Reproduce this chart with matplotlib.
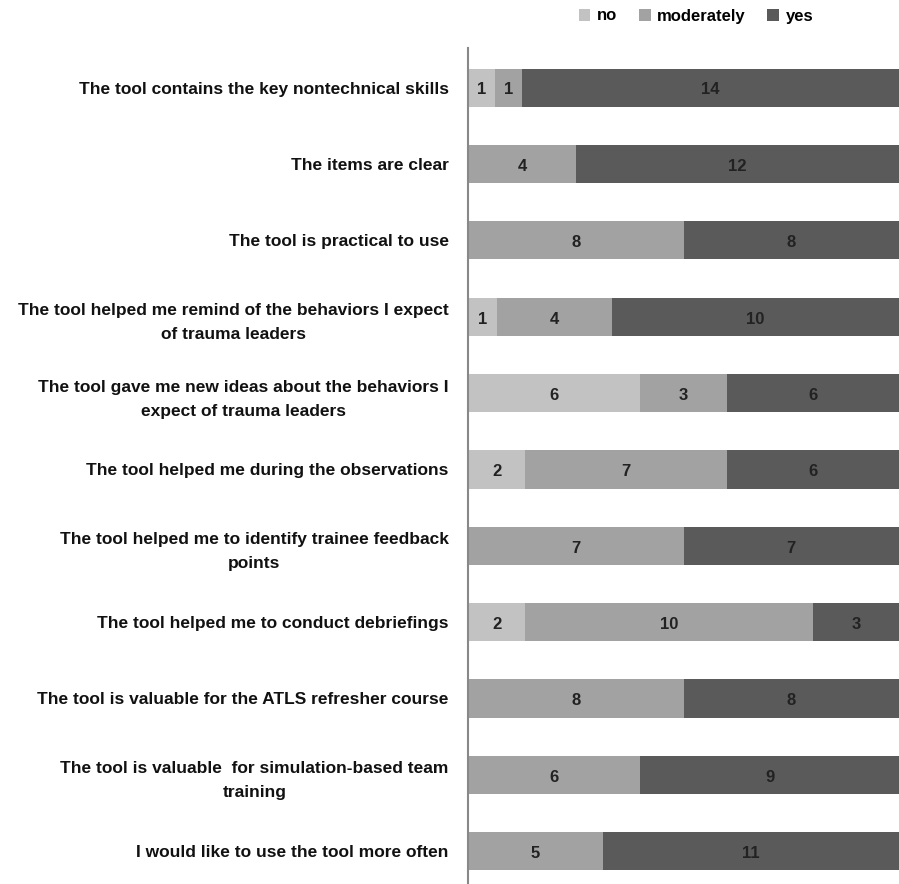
import numpy as np
import matplotlib
matplotlib.use("Agg")
import matplotlib.pyplot as plt

# survey items, top to bottom
items = [
    "The tool contains the key nontechnical skills",
    "The items are clear",
    "The tool is practical to use",
    "The tool helped me remind of the behaviors I expect\nof trauma leaders",
    "The tool gave me new ideas about the behaviors I\nexpect of trauma leaders",
    "The tool helped me during the observations",
    "The tool helped me to identify trainee feedback\npoints",
    "The tool helped me to conduct debriefings",
    "The tool is valuable for the ATLS refresher course",
    "The tool is valuable  for simulation-based team\ntraining",
    "I would like to use the tool more often",
]
no = [1, 0, 0, 1, 6, 2, 0, 2, 0, 0, 0]
moderately = [1, 4, 8, 4, 3, 7, 7, 10, 8, 6, 5]
yes = [14, 12, 8, 10, 6, 6, 7, 3, 8, 9, 11]

series = [("no", no, "#c2c2c2"),
          ("moderately", moderately, "#a2a2a2"),
          ("yes", yes, "#5a5a5a")]

plt.rcParams["font.family"] = ["Liberation Sans Narrow", "Liberation Sans", "DejaVu Sans"]

fig = plt.figure(figsize=(8.99, 8.84), dpi=100)
ax = fig.add_axes([468 / 899, 0.0, 1 - 468 / 899, 1 - 48 / 884])

totals = np.array(no) + np.array(moderately) + np.array(yes)
y = np.arange(len(items))
left = np.zeros(len(items))
for name, vals, color in series:
    vals = np.array(vals, dtype=float)
    pct = vals / totals * 100
    bars = ax.barh(y, pct, left=left, height=0.5, color=color, label=name)
    for b, v in zip(bars, vals):
        if v > 0:
            ax.text(b.get_x() + b.get_width() / 2, b.get_y() + b.get_height() / 2 + 0.03,
                    f"{int(v)}", ha="center", va="center", fontsize=12,
                    fontweight="bold", color="#222222")
    left += pct

ax.set_xlim(0, 100)
ax.set_ylim(10.43, -0.52)
ax.set_yticks(y)
ax.set_yticklabels(items, fontsize=12.5, fontweight="bold", color="#111111",
                   multialignment="center", linespacing=1.75)
ax.tick_params(axis="y", length=0, pad=14)
ax.set_xticks([])
for s in ["top", "right", "bottom"]:
    ax.spines[s].set_visible(False)
ax.spines["left"].set_color("#888888")
ax.spines["left"].set_linewidth(1.5)

fig.legend(loc="center", bbox_to_anchor=(696 / 899, 1 - 16 / 884), ncol=3,
           frameon=False, handlelength=0.7, handleheight=0.7, handletextpad=0.4,
           columnspacing=1.3, prop={"size": 12, "weight": "bold"})

fig.savefig("out.png", dpi=100)
